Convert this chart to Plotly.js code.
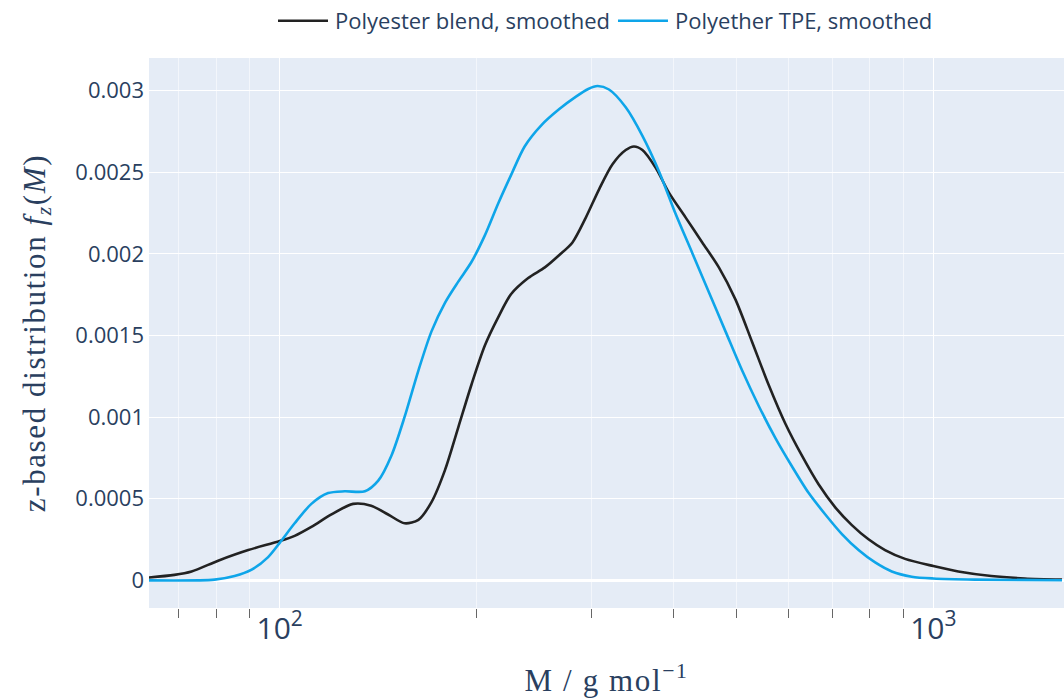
<!DOCTYPE html>
<html>
<head>
<meta charset="utf-8">
<script src="https://cdn.plot.ly/plotly-3.0.1.min.js"></script>
<style>
html,body{margin:0;padding:0;background:#fff;}
#chart{width:1064px;height:698px;}
#chart .g-xtitle text, #chart .g-ytitle text{letter-spacing:1.6px;}
</style>
</head>
<body>
<div id="chart"></div>
<script>
// Polyester blend, smoothed
const polyesterM = [60.7, 69, 73.3, 80.5, 89.5, 100, 105.4, 111.8, 120, 129.5, 138, 146.5, 155.3, 163, 170.7, 179, 187.6, 196.5, 206, 216, 226, 240, 254.5, 267.8, 280.5, 294, 308.2, 323, 338.4, 348.3, 358.9, 376.1, 394, 418, 443.1, 469.8, 498, 528.2, 559.8, 593.9, 629.6, 667.5, 707.9, 750.6, 795.9, 843.7, 905.4, 1000, 1092, 1227, 1380, 1574];
const polyesterF = [0.000011, 0.000033, 0.000054, 0.00012, 0.000185, 0.00024, 0.000272, 0.000327, 0.000403, 0.000468, 0.000457, 0.000403, 0.000349, 0.00037, 0.000479, 0.000675, 0.000937, 0.001198, 0.001438, 0.001612, 0.001754, 0.001852, 0.001917, 0.001993, 0.00207, 0.002222, 0.002397, 0.002549, 0.002636, 0.002658, 0.002636, 0.002527, 0.002375, 0.002222, 0.00207, 0.001917, 0.001721, 0.00146, 0.001198, 0.000959, 0.000763, 0.000588, 0.000447, 0.000338, 0.000251, 0.000185, 0.000131, 0.000087, 0.000054, 0.000026, 0.000011, 0.000004];

// Polyether TPE, smoothed
const polyetherM = [60.7, 79.5, 85.3, 90.6, 96, 100, 105.4, 111.8, 118.6, 125.7, 135, 141.5, 148.2, 155.3, 163, 170.7, 179, 187.6, 196.5, 206, 216, 226, 237, 251.5, 267.8, 284, 296.5, 306.4, 319, 338.4, 358.9, 380.5, 403.5, 427.9, 453.6, 480.9, 510, 540.7, 573.4, 608, 644.8, 683.6, 724.8, 768.5, 814.8, 864, 926.7, 1000, 1158, 1574];
const polyetherF = [0, 0.000004, 0.000026, 0.000065, 0.000142, 0.000229, 0.000349, 0.000468, 0.000534, 0.000545, 0.000545, 0.00061, 0.000763, 0.001002, 0.001285, 0.001525, 0.0017, 0.00183, 0.00195, 0.002113, 0.00231, 0.002484, 0.002658, 0.002789, 0.002887, 0.002963, 0.00301, 0.003028, 0.003007, 0.002898, 0.002723, 0.002505, 0.002244, 0.002004, 0.001765, 0.001525, 0.001285, 0.001068, 0.000871, 0.000697, 0.000534, 0.000403, 0.000283, 0.000185, 0.000109, 0.000054, 0.000022, 0.000011, 0.000004, 0];

const seriesNames = ["Polyester blend, smoothed", "Polyether TPE, smoothed"];

const traces = [
  {x: polyesterM, y: polyesterF, name: seriesNames[0], type: "scatter", mode: "lines",
   line: {color: "#222222", width: 2.6, shape: "spline", smoothing: 0.8}},
  {x: polyetherM, y: polyetherF, name: seriesNames[1], type: "scatter", mode: "lines",
   line: {color: "#0ea5e9", width: 2.6, shape: "spline", smoothing: 0.8}}
];

const layout = {
  width: 1064, height: 698,
  margin: {l: 149, r: 0, t: 57, b: 90, pad: 0},
  paper_bgcolor: "#ffffff",
  plot_bgcolor: "#E5ECF6",
  font: {family: "Open Sans, sans-serif", size: 22, color: "#2a3f5f"},
  showlegend: true,
  legend: {orientation: "h", x: 0.5, xanchor: "center", y: 1.03, yanchor: "bottom",
           itemwidth: 50,
           font: {size: 22, color: "#2a3f5f"}, bgcolor: "rgba(0,0,0,0)"},
  xaxis: {
    type: "log", range: [1.8, 3.2], dtick: 1, exponentformat: "power",
    showgrid: true, gridcolor: "#ffffff", gridwidth: 1.3,
    zeroline: false, showline: false, ticks: "",
    tickfont: {size: 24, color: "#2a3f5f"},
    minor: {dtick: "D1", ticks: "outside", ticklen: 9, tickcolor: "#666666", tickwidth: 1,
            showgrid: true, gridcolor: "rgba(255,255,255,0.55)", gridwidth: 1},
    title: {text: "M / g mol<sup>\u22121</sup>", font: {family: "Liberation Serif, serif", size: 31, color: "#2a3f5f"}, standoff: 26}
  },
  yaxis: {
    range: [-0.00017, 0.0032], dtick: 0.0005, tick0: 0,
    showgrid: true, gridcolor: "#ffffff", gridwidth: 1.3,
    zeroline: true, zerolinecolor: "#ffffff", zerolinewidth: 2.5,
    showline: false, ticks: "", ticklabelstandoff: 4,
    tickfont: {size: 22, color: "#2a3f5f"},
    title: {text: "z-based distribution <i>f<sub>z</sub></i>(<i>M</i>)", font: {family: "Liberation Serif, serif", size: 31, color: "#2a3f5f"}, standoff: 20}
  }
};

Plotly.newPlot("chart", traces, layout, {displayModeBar: false, responsive: false}).then(function (gd) {
  // lengthen legend line samples to match the reference legend
  gd.querySelectorAll(".legendlines path").forEach(function (p) {
    p.setAttribute("d", "M3,0h50");
  });
});
</script>
</body>
</html>
